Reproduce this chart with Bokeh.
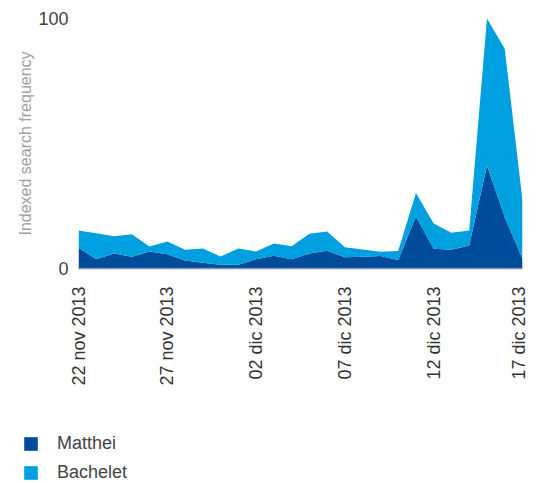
from bokeh.plotting import figure
from bokeh.layouts import column
from bokeh.models import ColumnDataSource, FixedTicker, Legend, LegendItem
from bokeh.embed import file_html
from bokeh.resources import INLINE
import math

dates = ["22 nov 2013", "23 nov 2013", "24 nov 2013", "25 nov 2013", "26 nov 2013",
         "27 nov 2013", "28 nov 2013", "29 nov 2013", "30 nov 2013", "01 dic 2013",
         "02 dic 2013", "03 dic 2013", "04 dic 2013", "05 dic 2013", "06 dic 2013",
         "07 dic 2013", "08 dic 2013", "09 dic 2013", "10 dic 2013", "11 dic 2013",
         "12 dic 2013", "13 dic 2013", "14 dic 2013", "15 dic 2013", "16 dic 2013",
         "17 dic 2013"]
matthei = [8.3, 3.7, 6.0, 4.7, 6.8, 5.7, 3.2, 2.3, 1.5, 1.5, 3.7, 5.1, 3.7, 6.0, 7.1,
           4.5, 4.7, 5.0, 3.4, 20.8, 7.9, 7.5, 9.2, 41.2, 20.5, 3.9]
bachelet = [6.9, 10.4, 6.9, 9.0, 2.0, 5.1, 4.3, 5.7, 3.3, 6.5, 3.1, 4.9, 5.2, 7.9, 7.7,
            4.0, 2.9, 1.7, 3.6, 9.4, 10.1, 6.8, 6.0, 58.8, 67.4, 23.3]
series = ["Matthei", "Bachelet"]
colors = ["#004b9a", "#009fe0"]
tick_days = [0, 5, 10, 15, 20, 25]
y_ticks = [0, 100]

x = list(range(len(dates)))
source = ColumnDataSource(dict(x=x, Matthei=matthei, Bachelet=bachelet))

p = figure(width=528, height=400, output_backend="svg", toolbar_location=None,
           x_range=(0, len(dates) - 1), y_range=(0, 100),
           min_border_left=78, min_border_right=6, min_border_top=18,
           min_border_bottom=132)
p.outline_line_color = None
p.background_fill_color = None
p.border_fill_color = None

p.varea_stack(series, x="x", source=source, color=colors)

p.xgrid.visible = False
p.ygrid.ticker = FixedTicker(ticks=[100])
p.ygrid.grid_line_color = "#999999"
p.ygrid.grid_line_width = 1

p.xaxis.ticker = FixedTicker(ticks=tick_days)
p.xaxis.major_label_overrides = {d: dates[d] for d in tick_days}
p.xaxis.major_label_orientation = math.pi / 2
p.xaxis.major_tick_line_color = None
p.xaxis.minor_tick_line_color = None
p.xaxis.axis_line_color = "#7f93b5"
p.xaxis.axis_line_width = 1.5
p.xaxis.major_label_standoff = 12
p.xaxis.major_label_text_font = "Liberation Sans"
p.xaxis.major_label_text_font_size = "18px"
p.xaxis.major_label_text_color = "#333333"

p.yaxis.ticker = FixedTicker(ticks=y_ticks)
p.yaxis.axis_line_color = None
p.yaxis.major_tick_line_color = None
p.yaxis.minor_tick_line_color = None
p.yaxis.major_label_standoff = 4
p.yaxis.major_label_text_font = "Liberation Sans"
p.yaxis.major_label_text_font_size = "18px"
p.yaxis.major_label_text_color = "#444444"
p.yaxis.axis_label = "Indexed search frequency"
p.yaxis.axis_label_text_font = "Liberation Sans"
p.yaxis.axis_label_text_font_style = "normal"
p.yaxis.axis_label_text_font_size = "16px"
p.yaxis.axis_label_text_color = "#a0a0a0"
p.yaxis.axis_label_standoff = 1

# legend panel: same stacked series, drawn off-screen, only used for the legend
lg = figure(width=528, height=83, output_backend="svg", toolbar_location=None,
            x_range=(1000, 1001), y_range=(0, 1),
            min_border_left=0, min_border_right=0, min_border_top=0,
            min_border_bottom=0, x_axis_type=None, y_axis_type=None)
if hasattr(lg, "frame_align"):
    lg.frame_align = False
lg.outline_line_color = None
lg.background_fill_color = None
lg.border_fill_color = None
lg.xgrid.visible = False
lg.ygrid.visible = False
lrs = lg.varea_stack(series, x="x", source=source, color=colors)

legend = Legend(items=[LegendItem(label=s, renderers=[r]) for s, r in zip(series, lrs)],
                location=(22, 0), orientation="vertical",
                glyph_width=17, glyph_height=17, label_height=17,
                spacing=8, label_standoff=18, padding=0, margin=0,
                label_text_font="Liberation Sans", label_text_font_size="18px",
                label_text_color="#444444",
                background_fill_alpha=0, border_line_color=None)
lg.add_layout(legend, "center")

layout = column(p, lg, spacing=0)
open("out.html", "w").write(file_html(layout, INLINE))
